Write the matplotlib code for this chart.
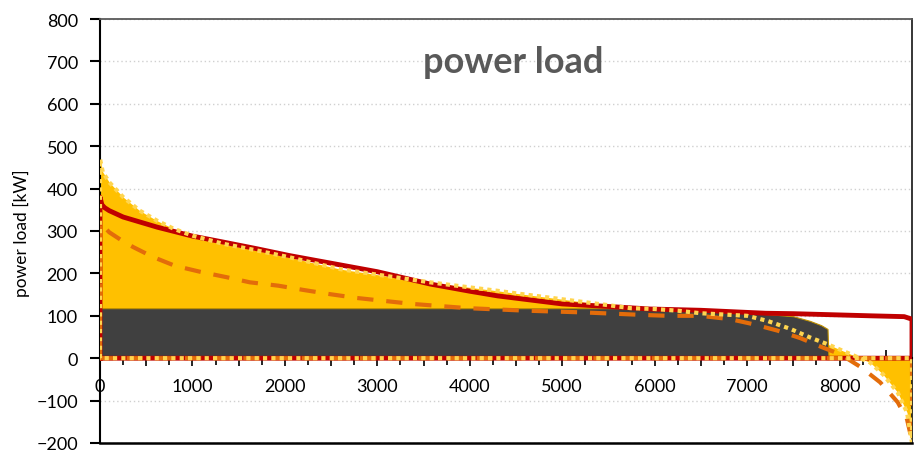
import numpy as np
import matplotlib
matplotlib.use('Agg')
import matplotlib.pyplot as plt
from matplotlib.ticker import MultipleLocator, FuncFormatter

plt.rcParams['font.family'] = ['Lato', 'DejaVu Sans']

# sorted hourly values (load duration curves), leap year -> 8784 h
res_hours = [0, 30, 100, 250, 430, 620, 800, 1000, 1330, 1700, 2050, 2600, 3000,
             3570, 4000, 4300, 4500, 5000, 5500, 5740, 6000, 6250, 6500, 7000,
             7220, 7470, 7680, 7870, 8040, 8200, 8330, 8470, 8630, 8730, 8784]
res_load = [470, 439, 415, 380, 348, 324, 305, 289, 270, 254, 238, 210, 197,
            179, 167, 159, 153, 139, 125, 118, 116, 112, 106, 100,
            88, 69, 49, 33, 17, 2, -10, -38, -81, -128, -200]

load_hours = [0, 20, 50, 100, 250, 620, 1000, 1330, 1700, 2050, 2600, 3000, 3570,
              4000, 4300, 5000, 5500, 5950, 6500, 6800, 7200, 7500, 8000, 8330,
              8700, 8784]
load_kw = [380, 362, 355, 348, 333, 309, 288, 274, 258, 242, 220, 204, 175,
           158, 147, 128, 122, 116, 113, 110, 106, 105, 102, 100, 98, 92]

flex_hours = [0, 100, 240, 360, 570, 810, 1080, 1370, 1620, 1930, 2200, 2490, 2780,
              3380, 3980, 4620, 5230, 5880, 6140, 6490, 6820, 7070, 7330, 7580,
              7810, 8010, 8230, 8440, 8630, 8730, 8784]
flex_kw = [320, 297, 277, 262, 239, 218, 204, 191, 179, 171, 161, 151, 142,
           128, 118, 112, 108, 102, 100, 100, 92, 80, 65, 47,
           26, 9, -21, -57, -104, -144, -195]

base_hours = [0, 6300, 6500, 6790, 7000, 7220, 7500, 7680, 7800, 7870, 7880]
base_kw = [118, 118, 113, 108, 106, 104, 99, 88, 78, 69, 0]

y_ticks = list(range(-200, 801, 100))
x_max = 8784


def closed(h, v):
    # series start and end on the zero line and run back along it
    h = np.r_[0, h, h[-1], 0]
    v = np.r_[0, v, 0, 0]
    return h, v


fig = plt.figure(figsize=(9.14, 4.56), dpi=100)
ax = fig.add_axes([0.10941, 0.02632, 0.88840, 0.92982])

ax.fill_between(res_hours, 0, res_load, color='#FFC000', lw=0, zorder=1.5)
ax.fill_between(base_hours, 0, base_kw, facecolor='#404040', edgecolor='#BF9000',
                lw=0.8, zorder=1.6)

ax.plot(*closed(load_hours, load_kw), color='#C00000', lw=3.5, zorder=3)
ax.plot(*closed(flex_hours, flex_kw), color='#E36C0A', lw=3, dashes=(3.9, 3.1),
        zorder=3.1)
ax.plot(*closed(res_hours, res_load), color='#FFD54F', lw=3, dashes=(1, 1),
        zorder=3.2)

ax.set_xlim(0, x_max)
ax.set_ylim(-200, 800)
ax.set_yticks(y_ticks)
ax.yaxis.grid(True, linestyle=(0, (1, 2)), color='#D0D0D0', lw=1)
ax.set_axisbelow(True)

ax.xaxis.set_major_locator(MultipleLocator(500))
ax.xaxis.set_minor_locator(MultipleLocator(250))
ax.xaxis.set_major_formatter(FuncFormatter(lambda v, p: f'{int(v)}' if v % 1000 == 0 else ''))

ax.spines['bottom'].set_position(('data', 0))
for s in ['left', 'bottom']:
    ax.spines[s].set_color('black')
    ax.spines[s].set_linewidth(1.5)
ax.spines['top'].set_color('#595959')
ax.spines['top'].set_linewidth(1.3)
ax.spines['right'].set_color('#262626')
ax.spines['right'].set_linewidth(1.3)
# frame line along the bottom
ax.plot([0, 1], [0, 0], transform=ax.transAxes, color='black', lw=1.8,
        clip_on=False, zorder=5)

ax.tick_params(axis='x', which='major', direction='inout', length=12, width=1.2,
               labelsize=13, pad=8)
ax.tick_params(axis='x', which='minor', direction='out', length=5, width=1.2)
ax.tick_params(axis='y', direction='out', length=7, width=1.5, labelsize=13, pad=9)

fig.text(0.561, 0.840, 'power load', ha='center', va='baseline', fontsize=26,
         fontweight='bold', color='#595959')
fig.text(0.0237, 0.489, 'power load [kW]', rotation=90, ha='center', va='center',
         fontsize=12.5)

fig.savefig('out.png', dpi=100)
